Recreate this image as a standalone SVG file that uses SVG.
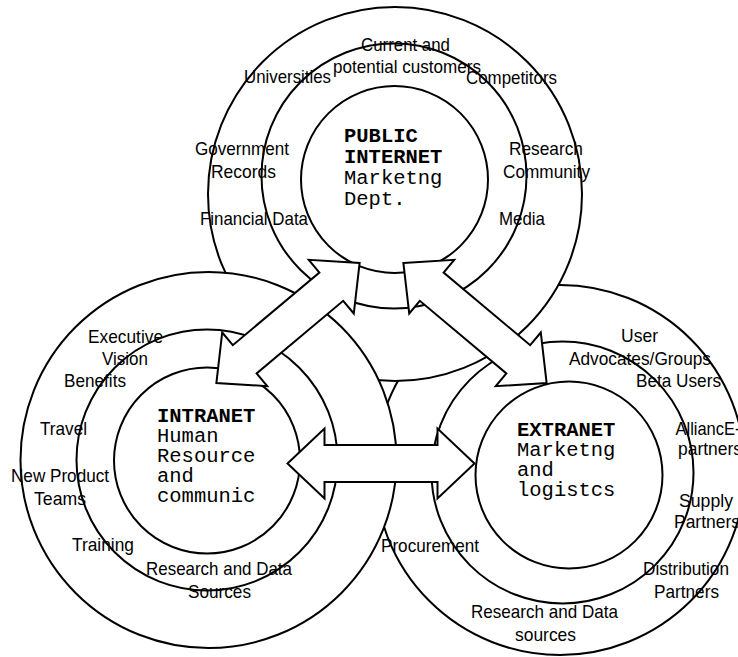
<svg xmlns="http://www.w3.org/2000/svg" xmlns:xlink="http://www.w3.org/1999/xlink" width="738" height="657" viewBox="0 0 738 657">
  <style>
    .ring { fill: #fff; stroke: #000; stroke-width: 2; }
    .arrow { fill: #fff; stroke: #000; stroke-width: 2; stroke-linejoin: miter; }
    .lbl { font-family: "Liberation Sans", Arial, sans-serif; font-size: 19px; fill: #000; }
    .core { font-family: "Liberation Mono", "Courier New", monospace; font-size: 20.5px; fill: #000; }
    .core .head { font-weight: bold; }
  </style>
  <defs>
    <!-- double-headed block arrow, centred on the origin, pointing along x -->
    <path id="dblArrow" d="M -93.5,0 L -56.5,-35 L -56.5,-18.5 L 56.5,-18.5 L 56.5,-35 L 93.5,0 L 56.5,35 L 56.5,18.5 L -56.5,18.5 L -56.5,35 Z"/>
  </defs>

  <rect width="738" height="657" fill="#fff"/>

  <!-- EXTRANET rings (drawn first, lowest) -->
  <g id="extranet">
    <circle class="ring" cx="560" cy="470" r="185"/>
    <circle class="ring" cx="562.5" cy="472.5" r="131"/>
    <circle class="ring" cx="569" cy="475" r="93.5"/>
  </g>

  <!-- PUBLIC INTERNET rings -->
  <g id="public-internet">
    <circle class="ring" cx="395" cy="194" r="187"/>
    <circle class="ring" cx="394" cy="176" r="132.5"/>
    <circle class="ring" cx="394.5" cy="179.5" r="93.5"/>
  </g>

  <!-- INTRANET rings (top-most) -->
  <g id="intranet">
    <circle class="ring" cx="208.5" cy="460" r="188"/>
    <circle class="ring" cx="207" cy="460" r="130.5"/>
    <circle class="ring" cx="207" cy="460.5" r="93"/>
  </g>

  <!-- connectors between the three networks -->
  <g id="connectors">
    <use xlink:href="#dblArrow" class="arrow" transform="translate(288 323) rotate(-40)"/>
    <use xlink:href="#dblArrow" class="arrow" transform="translate(475 323) rotate(40)"/>
    <use xlink:href="#dblArrow" class="arrow" transform="translate(381 463.5)"/>
  </g>

  <!-- core titles -->
  <g id="public-internet-title" class="core">
    <text x="344" y="141.5" class="head">PUBLIC</text>
    <text x="344" y="162.5" class="head">INTERNET</text>
    <text x="344" y="183.8">Marketng</text>
    <text x="344" y="205">Dept.</text>
  </g>
  <g id="intranet-title" class="core">
    <text x="157" y="421.7" class="head">INTRANET</text>
    <text x="157" y="441.7">Human</text>
    <text x="157" y="461.7">Resource</text>
    <text x="157" y="481.7">and</text>
    <text x="157" y="501.7">communic</text>
  </g>
  <g id="extranet-title" class="core">
    <text x="517" y="435.7" class="head">EXTRANET</text>
    <text x="517" y="455.7">Marketng</text>
    <text x="517" y="475.7">and</text>
    <text x="517" y="495.7">logistcs</text>
  </g>

  <!-- ring labels: public internet -->
  <g id="public-internet-labels" class="lbl">
    <text x="361" y="51" textLength="89" lengthAdjust="spacingAndGlyphs">Current and</text>
    <text x="333" y="73" textLength="148" lengthAdjust="spacingAndGlyphs">potential customers</text>
    <text x="244" y="83" textLength="87" lengthAdjust="spacingAndGlyphs">Universities</text>
    <text x="466" y="84" textLength="91" lengthAdjust="spacingAndGlyphs">Competitors</text>
    <text x="195" y="155" textLength="94" lengthAdjust="spacingAndGlyphs">Government</text>
    <text x="211" y="178" textLength="65" lengthAdjust="spacingAndGlyphs">Records</text>
    <text x="200" y="225" textLength="108" lengthAdjust="spacingAndGlyphs">Financial Data</text>
    <text x="509" y="155" textLength="74" lengthAdjust="spacingAndGlyphs">Research</text>
    <text x="503" y="178" textLength="87" lengthAdjust="spacingAndGlyphs">Community</text>
    <text x="499" y="225" textLength="46" lengthAdjust="spacingAndGlyphs">Media</text>
  </g>

  <!-- ring labels: intranet -->
  <g id="intranet-labels" class="lbl">
    <text x="88" y="343" textLength="75" lengthAdjust="spacingAndGlyphs">Executive</text>
    <text x="102" y="365" textLength="46" lengthAdjust="spacingAndGlyphs">Vision</text>
    <text x="64" y="387" textLength="62" lengthAdjust="spacingAndGlyphs">Benefits</text>
    <text x="40" y="435" textLength="47" lengthAdjust="spacingAndGlyphs">Travel</text>
    <text x="11" y="482" textLength="98" lengthAdjust="spacingAndGlyphs">New Product</text>
    <text x="34" y="505" textLength="52" lengthAdjust="spacingAndGlyphs">Teams</text>
    <text x="72" y="551" textLength="62" lengthAdjust="spacingAndGlyphs">Training</text>
    <text x="146" y="575" textLength="146" lengthAdjust="spacingAndGlyphs">Research and Data</text>
    <text x="188" y="598" textLength="63" lengthAdjust="spacingAndGlyphs">Sources</text>
  </g>

  <!-- ring labels: extranet -->
  <g id="extranet-labels" class="lbl">
    <text x="621" y="342" textLength="37" lengthAdjust="spacingAndGlyphs">User</text>
    <text x="569" y="365" textLength="142" lengthAdjust="spacingAndGlyphs">Advocates/Groups</text>
    <text x="636" y="387" textLength="85" lengthAdjust="spacingAndGlyphs">Beta Users</text>
    <text x="675.5" y="435" textLength="65" lengthAdjust="spacingAndGlyphs">AlliancE-</text>
    <text x="678" y="455" textLength="64" lengthAdjust="spacingAndGlyphs">partners</text>
    <text x="679" y="507" textLength="54" lengthAdjust="spacingAndGlyphs">Supply</text>
    <text x="674" y="528" textLength="66" lengthAdjust="spacingAndGlyphs">Partners</text>
    <text x="643" y="575" textLength="86" lengthAdjust="spacingAndGlyphs">Distribution</text>
    <text x="654" y="598" textLength="65" lengthAdjust="spacingAndGlyphs">Partners</text>
    <text x="381" y="552" textLength="98" lengthAdjust="spacingAndGlyphs">Procurement</text>
    <text x="471" y="618" textLength="147" lengthAdjust="spacingAndGlyphs">Research and Data</text>
    <text x="515" y="641" textLength="61" lengthAdjust="spacingAndGlyphs">sources</text>
  </g>
</svg>
